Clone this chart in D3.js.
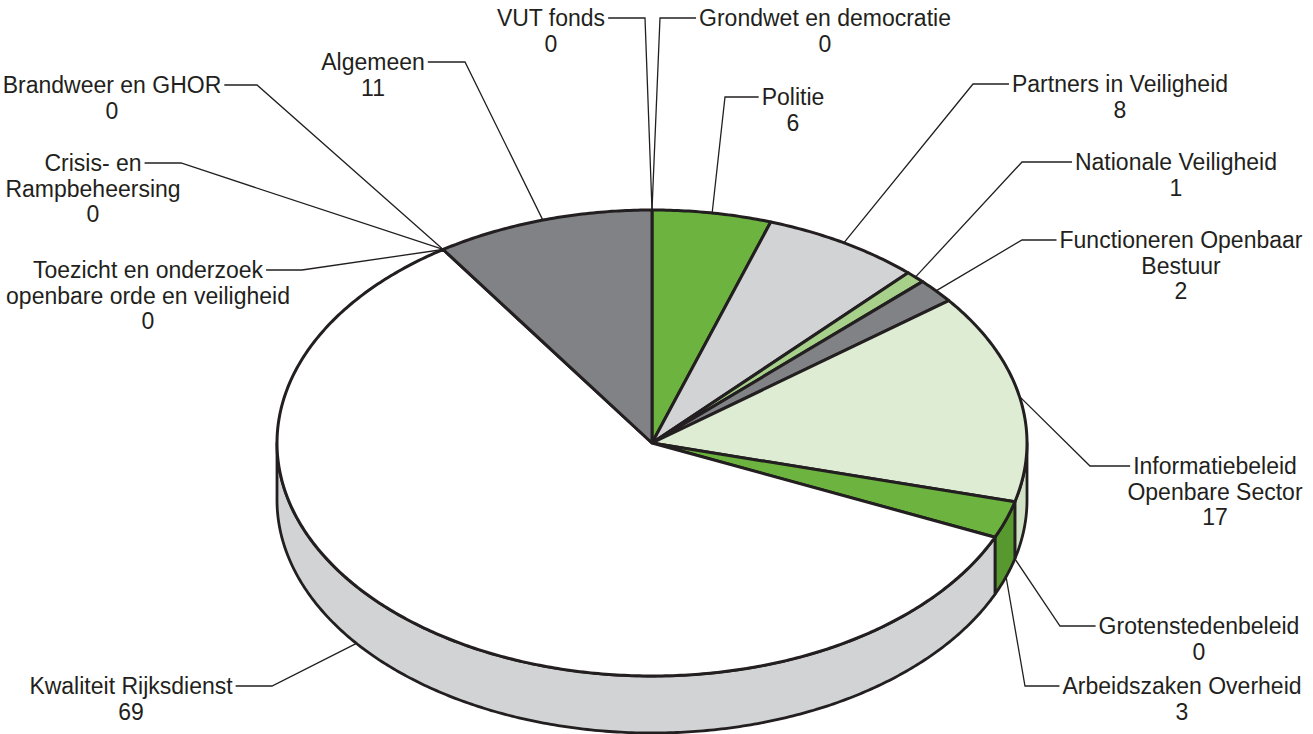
<!DOCTYPE html>
<html>
<head>
<meta charset="utf-8">
<script src="https://cdn.jsdelivr.net/npm/d3@7"></script>
<style>
  html, body { margin: 0; padding: 0; background: #ffffff; }
  svg { display: block; }
  text { font-family: "Liberation Sans", Arial, sans-serif; fill: #231f20; }
</style>
</head>
<body>
<svg id="chart" width="1313" height="734"></svg>
<script>
// ---- data (clockwise from 12 o'clock) ----
const categories = [
  "Grondwet en democratie",
  "Politie",
  "Partners in Veiligheid",
  "Nationale Veiligheid",
  "Functioneren Openbaar|Bestuur",
  "Informatiebeleid|Openbare Sector",
  "Grotenstedenbeleid",
  "Arbeidszaken Overheid",
  "Kwaliteit Rijksdienst",
  "Toezicht en onderzoek|openbare orde en veiligheid",
  "Crisis- en|Rampbeheersing",
  "Brandweer en GHOR",
  "Algemeen",
  "VUT fonds"
];
const values = [0, 6, 8, 1, 2, 17, 0, 3, 69, 0, 0, 0, 11, 0];
const topColors  = ["#6cb33f","#6cb33f","#d1d3d4","#a7d08b","#808285","#deecd4","#6cb33f","#6cb33f","#ffffff","#ffffff","#ffffff","#ffffff","#808285","#808285"];
const sideColors = ["#58992f","#58992f","#b9babc","#8fbb73","#6b6c6f","#d0e1c6","#58992f","#58992f","#d1d3d4","#d1d3d4","#d1d3d4","#d1d3d4","#6b6c6f","#6b6c6f"];

// ---- layout ----
const cx = 652, cy = 443, rx = 375, ry = 233, depth = 57;
const lineH = 25.5;
const labelLayout = [
  {x: 825,  y: 18,  elbow: 660,  side: "right"},
  {x: 793,  y: 97,  elbow: 725,  side: "right"},
  {x: 1120, y: 84,  elbow: 973,  side: "right"},
  {x: 1176, y: 162, elbow: 1022, side: "right"},
  {x: 1181, y: 240, elbow: 1022, side: "right"},
  {x: 1215, y: 466, elbow: 1090, side: "right"},
  {x: 1199, y: 626, elbow: 1060, side: "right"},
  {x: 1182, y: 686, elbow: 1025, side: "right"},
  {x: 131,  y: 686, elbow: 272,  side: "left", anchorAngle: 232},
  {x: 148,  y: 270, elbow: 302,  side: "left"},
  {x: 93,   y: 163, elbow: 181,  side: "left"},
  {x: 112,  y: 85,  elbow: 257,  side: "left"},
  {x: 373,  y: 62,  elbow: 465,  side: "left"},
  {x: 551,  y: 18,  elbow: 645,  side: "left"}
];

const svg = d3.select("#chart");
const ink = "#231f20";

const data = categories.map((c, i) => ({name: c, value: values[i], i}));
const arcs = d3.pie().sort(null).value(d => d.value).startAngle(0).endAngle(2 * Math.PI)(data);

const pt = (a, dy = 0) => [cx + rx * Math.sin(a), cy - ry * Math.cos(a) + dy];
const line = d3.line();
function arcPts(a0, a1, dy = 0) {
  const n = Math.max(2, Math.ceil(Math.abs(a1 - a0) / 0.01));
  return d3.range(n + 1).map(k => pt(a0 + (a1 - a0) * k / n, dy));
}

// ---- sides (front half only: angle between PI/2 and 3PI/2) ----
const gSide = svg.append("g");
arcs.forEach(a => {
  if (a.endAngle - a.startAngle <= 0) return;
  const s = Math.max(a.startAngle, Math.PI / 2);
  const e = Math.min(a.endAngle, 3 * Math.PI / 2);
  if (e <= s) return;
  const pts = arcPts(s, e, 0).concat(arcPts(e, s, depth));
  gSide.append("path")
    .attr("d", line(pts) + "Z")
    .attr("fill", sideColors[a.data.i])
    .attr("stroke", ink)
    .attr("stroke-width", 2.8)
    .attr("stroke-linejoin", "round");
});

// ---- top faces ----
const gTop = svg.append("g");
arcs.forEach(a => {
  if (a.endAngle - a.startAngle <= 0) return;
  const pts = [[cx, cy]].concat(arcPts(a.startAngle, a.endAngle, 0));
  gTop.append("path")
    .attr("d", line(pts) + "Z")
    .attr("fill", topColors[a.data.i])
    .attr("stroke", ink)
    .attr("stroke-width", 3)
    .attr("stroke-linejoin", "round");
});

// ---- labels and leader lines ----
const gLab = svg.append("g");
arcs.forEach(a => {
  const L = labelLayout[a.data.i];
  const lines = a.data.name.split("|").concat([String(a.data.value)]);
  const t = gLab.append("text")
    .attr("text-anchor", "middle")
    .style("font-size", "23px");
  lines.forEach((s, k) => {
    t.append("tspan").attr("x", L.x).attr("y", L.y + k * lineH + 8).text(s);
  });
  const w = t.select("tspan").node().getComputedTextLength();
  const tx = L.side === "right" ? L.x - w / 2 - 3 : L.x + w / 2 + 3;

  let ang = L.anchorAngle != null ? L.anchorAngle * Math.PI / 180 : (a.startAngle + a.endAngle) / 2;
  const front = Math.cos(ang) < 0;
  const anchor = pt(ang, front ? depth : 0);

  gLab.append("path")
    .attr("d", line([[tx, L.y], [L.elbow, L.y], anchor]))
    .attr("fill", "none")
    .attr("stroke", ink)
    .attr("stroke-width", 1.3);
});
</script>
</body>
</html>
